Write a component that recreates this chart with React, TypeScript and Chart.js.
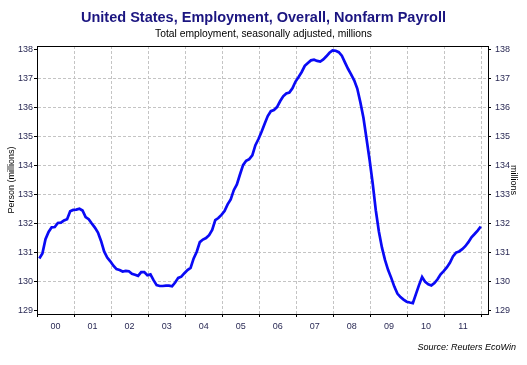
import React, { useEffect, useRef } from 'react';
import { Chart, registerables } from 'chart.js';

Chart.register(...registerables);

// Year labels shown under the x axis (2000..2011)
const yearLabels = ['00', '01', '02', '03', '04', '05', '06', '07', '08', '09', '10', '11'];

// Monthly total nonfarm payroll, millions (Jan 2000 .. Dec 2011)
const payroll2000 = [130.80, 130.97, 131.46, 131.71, 131.87, 131.88, 132.02, 132.03, 132.11, 132.15, 132.42, 132.47];
const payroll2001 = [132.48, 132.51, 132.45, 132.22, 132.15, 132.00, 131.86, 131.69, 131.40, 131.04, 130.83, 130.70];
const payroll2002 = [130.55, 130.43, 130.40, 130.35, 130.37, 130.36, 130.27, 130.24, 130.20, 130.33, 130.33, 130.22];
const payroll2003 = [130.25, 130.05, 129.88, 129.85, 129.85, 129.86, 129.86, 129.84, 129.97, 130.13, 130.17, 130.29];
const payroll2004 = [130.40, 130.47, 130.80, 131.03, 131.36, 131.45, 131.50, 131.60, 131.78, 132.12, 132.19, 132.30];
const payroll2005 = [132.43, 132.66, 132.83, 133.15, 133.35, 133.69, 134.01, 134.16, 134.22, 134.35, 134.70, 134.91];
const payroll2006 = [135.16, 135.44, 135.70, 135.87, 135.91, 136.01, 136.21, 136.38, 136.48, 136.51, 136.66, 136.89];
const payroll2007 = [137.05, 137.22, 137.43, 137.53, 137.62, 137.64, 137.60, 137.58, 137.65, 137.76, 137.88, 137.96];
const payroll2008 = [137.95, 137.90, 137.78, 137.55, 137.33, 137.14, 136.93, 136.65, 136.18, 135.64, 134.92, 134.19];
const payroll2009 = [133.38, 132.46, 131.73, 131.17, 130.74, 130.40, 130.13, 129.83, 129.59, 129.47, 129.38, 129.31];
const payroll2010 = [129.28, 129.26, 129.57, 129.88, 130.16, 129.99, 129.91, 129.87, 129.95, 130.08, 130.25, 130.36];
const payroll2011 = [130.49, 130.65, 130.87, 131.00, 131.04, 131.12, 131.22, 131.36, 131.53, 131.64, 131.76, 131.90];

const payrollMillions = [
  ...payroll2000, ...payroll2001, ...payroll2002, ...payroll2003,
  ...payroll2004, ...payroll2005, ...payroll2006, ...payroll2007,
  ...payroll2008, ...payroll2009, ...payroll2010, ...payroll2011,
];

// Axis ranges
const yMin = 128.886;
const yMax = 138.114;
const yTickFirst = 129;
const yTickLast = 138;
const xMonthsMax = 146.1;
const monthOffset = 0.75; // monthly observation position within the month

const FONT = '"Liberation Sans", Arial, sans-serif';
const TICK_COLOR = '#2a2a55';
const GRID_COLOR = '#c4c4c4';

export default function App() {
  const canvasRef = useRef<HTMLCanvasElement | null>(null);

  useEffect(() => {
    const canvas = canvasRef.current;
    if (!canvas) return;

    const points = payrollMillions.map((v, i) => ({ x: i + monthOffset, y: v }));

    const frame = {
      id: 'frameAndSource',
      afterDraw(chart: any) {
        const { ctx, chartArea } = chart;
        ctx.save();
        ctx.strokeStyle = '#000';
        ctx.lineWidth = 1;
        ctx.beginPath();
        const y = Math.round(chartArea.top) + 0.5;
        ctx.moveTo(chartArea.left, y);
        ctx.lineTo(chartArea.right, y);
        ctx.stroke();
        ctx.font = 'italic 9px ' + FONT;
        ctx.fillStyle = '#000';
        ctx.textAlign = 'right';
        ctx.textBaseline = 'middle';
        ctx.fillText('Source: Reuters EcoWin', 516, 347);
        ctx.restore();
      },
    };

    const chart = new Chart(canvas, {
      type: 'line',
      data: {
        datasets: [
          {
            label: 'Nonfarm Payroll',
            data: points,
            borderColor: '#0a0af5',
            borderWidth: 2.7,
            pointRadius: 0,
            tension: 0,
            fill: false,
            yAxisID: 'y',
            xAxisID: 'x',
          },
        ],
      },
      options: {
        responsive: false,
        animation: false,
        devicePixelRatio: 1,
        layout: { padding: 0 },
        plugins: {
          legend: { display: false },
          tooltip: { enabled: false },
          title: {
            display: true,
            text: 'United States, Employment, Overall, Nonfarm Payroll',
            color: '#1b1580',
            font: { family: FONT, size: 14.5, weight: 'bold', lineHeight: 1.2 },
            padding: { top: 9, bottom: 0 },
          },
          subtitle: {
            display: true,
            text: 'Total employment, seasonally adjusted, millions',
            color: '#000',
            font: { family: FONT, size: 10.3, lineHeight: 1.2 },
            padding: { top: 1.4, bottom: 5.84 },
          },
        },
        scales: {
          x: {
            type: 'linear',
            position: 'bottom',
            min: 0,
            max: xMonthsMax,
            afterFit: (s: any) => { s.height = 51; },
            ticks: {
              stepSize: 6,
              includeBounds: false,
              autoSkip: false,
              maxRotation: 0,
              minRotation: 0,
              padding: 4,
              color: TICK_COLOR,
              font: { family: FONT, size: 9 },
              callback: (v: any) => {
                const n = Math.round(Number(v));
                return n % 12 === 6 ? yearLabels[(n - 6) / 12] : '';
              },
            },
            grid: {
              color: (c: any) => {
                const v = c.tick ? Math.round(c.tick.value) : -1;
                return v > 0 && v % 12 === 0 ? GRID_COLOR : 'transparent';
              },
              tickColor: (c: any) => {
                const v = c.tick ? Math.round(c.tick.value) : -1;
                return v >= 0 && v % 12 === 0 ? '#000' : 'transparent';
              },
              lineWidth: 1,
              tickLength: 3,
            },
            border: { display: true, color: '#000', width: 1, dash: [3, 2] },
          },
          y: {
            type: 'linear',
            position: 'left',
            min: yMin,
            max: yMax,
            afterFit: (s: any) => { s.width = 37; },
            ticks: {
              stepSize: 1,
              includeBounds: false,
              padding: 1,
              color: TICK_COLOR,
              font: { family: FONT, size: 9 },
            },
            grid: {
              color: (c: any) => {
                const v = c.tick ? Math.round(c.tick.value) : -1;
                return v === yTickFirst || v === yTickLast || v < 0 ? 'transparent' : GRID_COLOR;
              },
              tickColor: '#000',
              lineWidth: 1,
              tickLength: 3,
            },
            border: { display: true, color: '#000', width: 1, dash: [3, 2] },
            title: {
              display: true,
              text: 'Person (millions)',
              color: '#000',
              font: { family: FONT, size: 9 },
              padding: { top: 6.3, bottom: 0 },
            },
          },
          y2: {
            type: 'linear',
            position: 'right',
            min: yMin,
            max: yMax,
            afterFit: (s: any) => { s.width = 39; },
            ticks: {
              stepSize: 1,
              includeBounds: false,
              padding: 4,
              color: TICK_COLOR,
              font: { family: FONT, size: 9 },
            },
            grid: {
              drawOnChartArea: false,
              tickColor: '#000',
              tickLength: 3,
            },
            border: { display: true, color: '#000', width: 1 },
            title: {
              display: true,
              text: 'millions',
              color: '#000',
              font: { family: FONT, size: 9 },
              padding: { top: 8, bottom: 0 },
            },
          },
        },
      } as any,
      plugins: [frame],
    });

    return () => chart.destroy();
  }, []);

  return (
    <div style={{ position: 'fixed', left: 0, top: 0, width: 527, height: 365, background: '#fff' }}>
      <canvas ref={canvasRef} width={527} height={365} style={{ display: 'block' }} />
    </div>
  );
}
